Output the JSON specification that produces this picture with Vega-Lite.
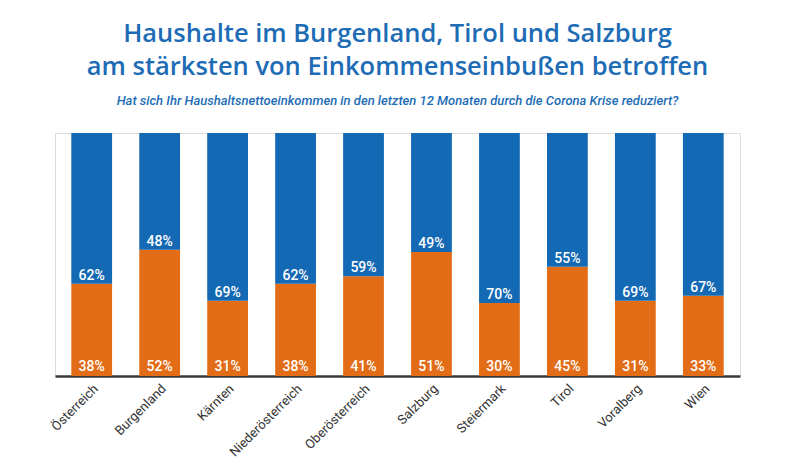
{
  "$schema": "https://vega.github.io/schema/vega-lite/v6.json",
  "autosize": {"type": "none"},
  "width": 685,
  "height": 243,
  "padding": {"left": 55, "top": 133, "right": 60, "bottom": 87},
  "background": "white",
  "title": {
    "text": ["Haushalte im Burgenland, Tirol und Salzburg", "am stärksten von Einkommenseinbußen betroffen"],
    "subtitle": "Hat sich Ihr Haushaltsnettoeinkommen in den letzten 12 Monaten durch die Corona Krise reduziert?",
    "anchor": "middle",
    "font": "Open Sans",
    "fontSize": 25.5,
    "fontWeight": 600,
    "lineHeight": 33,
    "color": "#1d6cb5",
    "subtitleFont": "Roboto",
    "subtitleFontStyle": "italic",
    "subtitleFontSize": 13,
    "subtitleFontWeight": 500,
    "subtitleColor": "#1d6cb5",
    "subtitlePadding": 15,
    "offset": 25
  },
  "data": {
    "values": [
      {"region": "Österreich", "ja": 0.38, "nein": 0.62},
      {"region": "Burgenland", "ja": 0.52, "nein": 0.48},
      {"region": "Kärnten", "ja": 0.31, "nein": 0.69},
      {"region": "Niederösterreich", "ja": 0.38, "nein": 0.62},
      {"region": "Oberösterreich", "ja": 0.41, "nein": 0.59},
      {"region": "Salzburg", "ja": 0.51, "nein": 0.49},
      {"region": "Steiermark", "ja": 0.30, "nein": 0.70},
      {"region": "Tirol", "ja": 0.45, "nein": 0.55},
      {"region": "Voralberg", "ja": 0.31, "nein": 0.69},
      {"region": "Wien", "ja": 0.33, "nein": 0.67}
    ]
  },
  "encoding": {
    "x": {
      "field": "region",
      "type": "nominal",
      "sort": null,
      "scale": {"paddingInner": 0.4, "paddingOuter": 0.24},
      "axis": {
        "title": null,
        "labelAngle": -45,
        "labelFont": "Roboto",
        "labelFontSize": 13,
        "labelColor": "#333333",
        "labelPadding": 6,
        "ticks": false,
        "domainColor": "#3a3a3a",
        "domainWidth": 2.5
      }
    }
  },
  "layer": [
    {
      "transform": [{"fold": ["ja", "nein"], "as": ["antwort", "wert"]}],
      "mark": {"type": "bar"},
      "encoding": {
        "y": {"field": "wert", "type": "quantitative", "stack": "zero", "scale": {"domain": [0, 1]}, "axis": null},
        "color": {
          "field": "antwort",
          "type": "nominal",
          "scale": {"domain": ["ja", "nein"], "range": ["#e36c17", "#1469b4"]},
          "legend": null
        },
        "order": {"field": "antwort", "sort": "ascending"}
      }
    },
    {
      "mark": {"type": "text", "baseline": "alphabetic", "dy": -5, "font": "Roboto", "fontSize": 14, "fontWeight": 500, "color": "white"},
      "encoding": {
        "y": {"datum": 0, "type": "quantitative"},
        "text": {"field": "ja", "type": "quantitative", "format": ".0%"}
      }
    },
    {
      "mark": {"type": "text", "baseline": "alphabetic", "dy": -4, "font": "Roboto", "fontSize": 14, "fontWeight": 500, "color": "white"},
      "encoding": {
        "y": {"field": "ja", "type": "quantitative"},
        "text": {"field": "nein", "type": "quantitative", "format": ".0%"}
      }
    }
  ]
}
